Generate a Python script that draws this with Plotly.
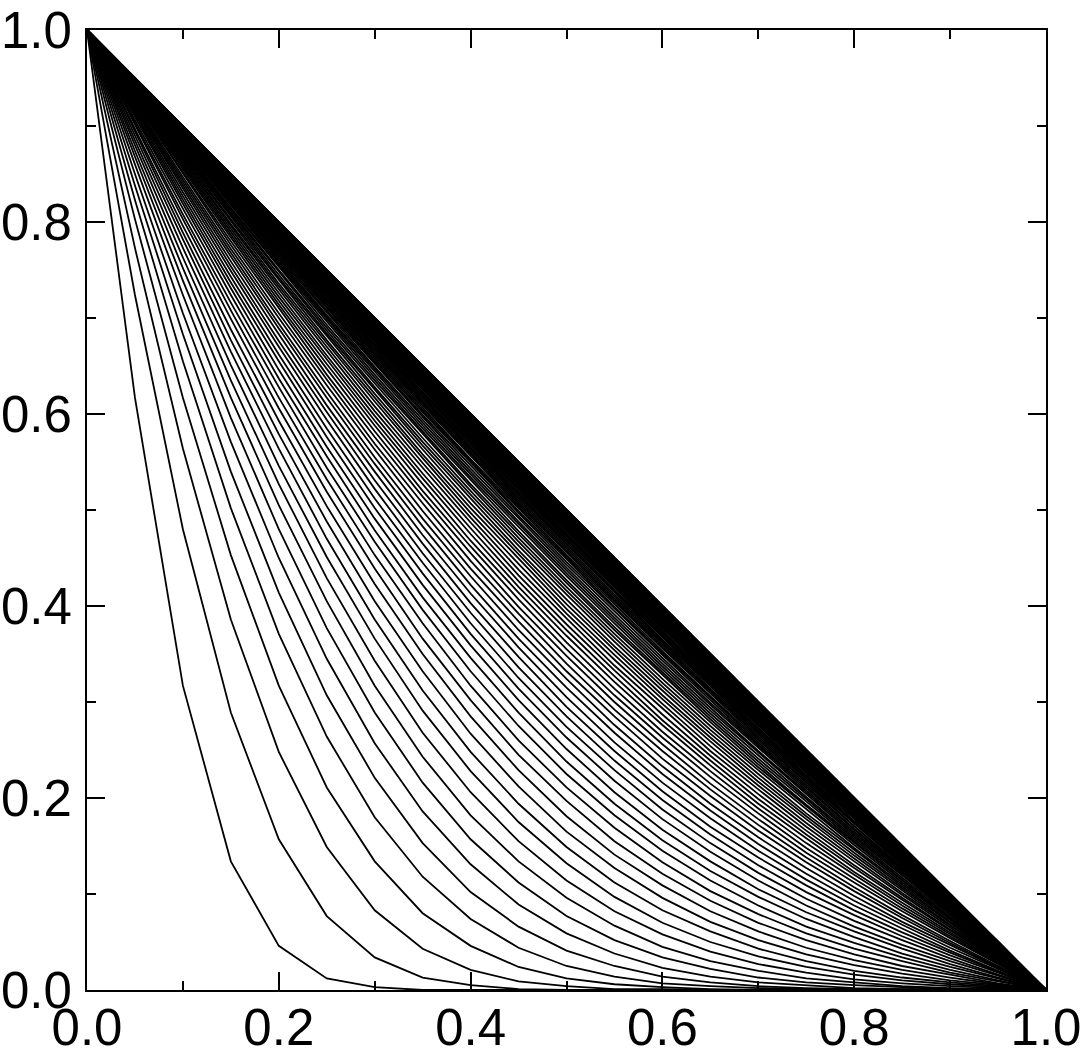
import plotly.graph_objects as go

# x grid (21 sample positions)
x_grid = [0.0, 0.05, 0.10, 0.15, 0.20, 0.25, 0.30, 0.35, 0.40, 0.45, 0.50,
          0.55, 0.60, 0.65, 0.70, 0.75, 0.80, 0.85, 0.90, 0.95, 1.0]

# every curve starts at y=1 (x=0) and ends at y=0 (x=1)
y_start = 1.0
y_end = 0.0

# interior values (x = 0.05 .. 0.95), in thousandths, one row per curve
early_curves = [
    [617, 317, 134, 46, 12, 3, 0, 0, 0, 0, 0, 0, 0, 0, 0, 0, 0, 0, 0],
    [724, 480, 289, 157, 77, 34, 13, 5, 1, 0, 0, 0, 0, 0, 0, 0, 0, 0, 0],
    [773, 564, 386, 248, 149, 83, 43, 21, 9, 4, 1, 1, 0, 0, 0, 0, 0, 0, 0],
    [803, 617, 453, 317, 211, 134, 80, 46, 24, 12, 6, 3, 1, 0, 0, 0, 0, 0, 0],
    [823, 655, 502, 371, 264, 180, 118, 74, 44, 25, 14, 7, 4, 2, 1, 0, 0, 0, 0],
    [838, 683, 540, 414, 307, 221, 153, 102, 66, 41, 25, 14, 8, 4, 2, 1, 1, 0, 0],
    [850, 705, 571, 450, 345, 257, 186, 131, 89, 59, 38, 23, 14, 8, 5, 2, 1, 1, 0],
    [860, 724, 596, 480, 377, 289, 216, 157, 112, 77, 52, 34, 22, 13, 8, 5, 3, 1, 1],
    [868, 739, 617, 505, 405, 317, 243, 182, 134, 96, 67, 45, 30, 20, 12, 8, 4, 2, 1],
    [874, 752, 635, 527, 429, 343, 268, 206, 155, 114, 82, 58, 40, 27, 18, 11, 7, 4, 2],
    [880, 763, 651, 546, 451, 366, 291, 228, 175, 132, 97, 70, 50, 35, 24, 16, 10, 6, 3],
    [885, 773, 665, 564, 470, 386, 312, 248, 194, 149, 112, 83, 61, 43, 30, 20, 13, 8, 4],
    [890, 782, 677, 579, 488, 405, 332, 267, 212, 165, 127, 96, 71, 52, 37, 26, 17, 10, 5],
    [894, 789, 688, 593, 504, 423, 350, 285, 229, 181, 141, 109, 82, 61, 44, 31, 21, 13, 6],
    [897, 796, 699, 606, 519, 439, 366, 302, 245, 197, 155, 121, 93, 70, 52, 37, 25, 16, 7],
    [901, 803, 708, 617, 532, 453, 382, 317, 260, 211, 169, 133, 103, 79, 59, 43, 30, 18, 9],
    [903, 808, 716, 628, 544, 467, 396, 332, 275, 225, 182, 145, 114, 88, 66, 49, 34, 21, 10],
    [906, 814, 724, 637, 556, 479, 409, 346, 289, 238, 194, 156, 124, 97, 74, 55, 38, 24, 12],
    [909, 819, 731, 646, 566, 491, 422, 359, 302, 251, 206, 167, 134, 105, 81, 61, 43, 27, 13],
    [911, 823, 737, 655, 576, 502, 434, 371, 314, 263, 218, 178, 144, 114, 88, 66, 47, 30, 15],
]

middle_curves = [
    [913, 827, 743, 662, 585, 512, 445, 382, 325, 274, 229, 188, 153, 122, 95, 72, 52, 33, 16],
    [915, 831, 749, 670, 594, 522, 455, 393, 336, 285, 239, 198, 162, 130, 102, 78, 56, 36, 18],
    [917, 835, 754, 676, 602, 531, 465, 403, 347, 295, 249, 207, 170, 138, 109, 83, 60, 39, 19],
    [919, 838, 759, 683, 609, 540, 474, 413, 357, 305, 258, 216, 179, 145, 115, 88, 64, 41, 20],
    [920, 841, 764, 689, 617, 548, 483, 422, 366, 315, 268, 225, 187, 152, 121, 93, 68, 44, 22],
    [922, 844, 768, 694, 623, 555, 491, 431, 375, 324, 276, 233, 194, 159, 127, 98, 71, 47, 23],
    [923, 847, 772, 700, 630, 563, 499, 439, 384, 332, 285, 241, 202, 166, 133, 103, 75, 49, 24],
    [925, 850, 776, 705, 636, 569, 507, 447, 392, 340, 292, 249, 209, 172, 138, 107, 78, 51, 25],
    [926, 852, 780, 710, 641, 576, 514, 455, 399, 348, 300, 256, 215, 178, 143, 112, 82, 54, 27],
    [927, 855, 784, 714, 647, 582, 520, 462, 407, 355, 307, 263, 222, 184, 148, 116, 85, 56, 28],
    [928, 857, 787, 718, 652, 588, 527, 468, 414, 362, 314, 269, 228, 189, 153, 120, 88, 58, 29],
    [929, 859, 790, 722, 657, 593, 533, 475, 420, 369, 321, 276, 234, 194, 158, 123, 91, 60, 30],
    [930, 861, 793, 726, 661, 598, 538, 481, 426, 375, 327, 281, 239, 199, 162, 127, 94, 62, 31],
    [931, 863, 796, 730, 666, 603, 544, 487, 432, 381, 333, 287, 244, 204, 166, 130, 96, 63, 32],
    [932, 865, 798, 733, 670, 608, 549, 492, 438, 387, 338, 293, 249, 209, 170, 134, 99, 65, 32],
    [933, 867, 801, 736, 674, 613, 554, 497, 444, 392, 344, 298, 254, 213, 174, 137, 101, 67, 33],
    [934, 868, 803, 740, 677, 617, 558, 502, 449, 397, 349, 303, 259, 217, 178, 140, 104, 68, 34],
    [935, 870, 806, 742, 681, 621, 563, 507, 454, 402, 354, 307, 263, 221, 181, 143, 106, 70, 35],
    [935, 871, 808, 745, 684, 625, 567, 512, 458, 407, 358, 312, 267, 225, 184, 146, 108, 71, 36],
    [936, 873, 810, 748, 687, 628, 571, 516, 463, 412, 363, 316, 271, 229, 188, 148, 110, 73, 36],
    [937, 874, 812, 750, 690, 632, 575, 520, 467, 416, 367, 320, 275, 232, 191, 151, 112, 74, 37],
    [937, 875, 814, 753, 693, 635, 579, 524, 471, 420, 371, 324, 279, 235, 193, 153, 114, 75, 37],
    [938, 876, 815, 755, 696, 638, 582, 527, 475, 424, 375, 328, 282, 238, 196, 155, 115, 76, 38],
    [939, 878, 817, 757, 699, 641, 585, 531, 478, 427, 378, 331, 285, 241, 199, 157, 117, 78, 39],
    [939, 879, 819, 759, 701, 644, 588, 534, 482, 431, 382, 334, 288, 244, 201, 159, 119, 79, 39],
]

dense_curves = [
    [940, 880, 820, 761, 703, 647, 591, 537, 485, 434, 385, 337, 291, 247, 204, 161, 120, 80, 40],
    [940, 881, 822, 763, 706, 649, 594, 540, 488, 437, 388, 340, 294, 249, 206, 163, 122, 81, 40],
    [941, 882, 823, 765, 708, 652, 597, 543, 491, 440, 391, 343, 297, 252, 208, 165, 123, 82, 41],
    [941, 882, 824, 767, 710, 654, 599, 546, 494, 443, 394, 346, 299, 254, 210, 167, 124, 82, 41],
    [942, 883, 825, 768, 712, 656, 602, 549, 497, 446, 397, 349, 302, 256, 212, 168, 126, 83, 42],
    [942, 884, 827, 770, 714, 658, 604, 551, 499, 449, 399, 351, 304, 258, 214, 170, 127, 84, 42],
    [942, 885, 828, 771, 715, 660, 606, 553, 502, 451, 402, 353, 306, 260, 216, 171, 128, 85, 42],
    [943, 886, 829, 773, 717, 662, 609, 556, 504, 453, 404, 356, 309, 262, 217, 173, 129, 86, 43],
    [943, 886, 830, 774, 719, 664, 611, 558, 506, 456, 406, 358, 311, 264, 219, 174, 130, 86, 43],
    [943, 887, 831, 775, 720, 666, 612, 560, 508, 458, 408, 360, 312, 266, 220, 175, 131, 87, 43],
    [944, 888, 832, 776, 722, 668, 614, 562, 510, 460, 410, 362, 314, 268, 222, 176, 132, 88, 44],
    [944, 888, 833, 778, 723, 669, 616, 564, 512, 462, 412, 364, 316, 269, 223, 178, 133, 88, 44],
    [944, 889, 833, 779, 724, 671, 618, 565, 514, 464, 414, 365, 318, 271, 224, 179, 133, 89, 44],
    [945, 889, 834, 780, 726, 672, 619, 567, 516, 465, 416, 367, 319, 272, 226, 180, 134, 89, 45],
    [945, 890, 835, 781, 727, 673, 621, 569, 517, 467, 417, 369, 321, 273, 227, 181, 135, 90, 45],
    [945, 890, 836, 782, 728, 675, 622, 570, 519, 469, 419, 370, 322, 275, 228, 182, 136, 90, 45],
    [945, 891, 836, 782, 729, 676, 623, 572, 521, 470, 421, 372, 323, 276, 229, 182, 136, 91, 45],
    [946, 891, 837, 783, 730, 677, 625, 573, 522, 472, 422, 373, 325, 277, 230, 183, 137, 91, 46],
    [946, 892, 838, 784, 731, 678, 626, 574, 523, 473, 423, 374, 326, 278, 231, 184, 138, 92, 46],
    [946, 892, 838, 785, 732, 679, 627, 576, 525, 474, 425, 376, 327, 279, 232, 185, 138, 92, 46],
    [946, 892, 839, 786, 733, 680, 628, 577, 526, 475, 426, 377, 328, 280, 233, 186, 139, 92, 46],
    [946, 893, 839, 786, 734, 681, 629, 578, 527, 477, 427, 378, 329, 281, 234, 186, 139, 93, 46],
    [947, 893, 840, 787, 734, 682, 630, 579, 528, 478, 428, 379, 330, 282, 234, 187, 140, 93, 47],
    [947, 893, 840, 788, 735, 683, 631, 580, 529, 479, 429, 380, 331, 283, 235, 188, 140, 93, 47],
    [947, 894, 841, 788, 736, 684, 632, 581, 530, 480, 430, 381, 332, 284, 236, 188, 141, 94, 47],
]

near_steady_curves = [
    [947, 894, 841, 789, 736, 685, 633, 582, 531, 481, 431, 382, 333, 285, 236, 189, 141, 94, 47],
    [947, 894, 842, 789, 737, 685, 634, 583, 532, 482, 432, 383, 334, 285, 237, 189, 142, 94, 47],
    [947, 895, 842, 790, 738, 686, 635, 583, 533, 483, 433, 383, 335, 286, 238, 190, 142, 95, 47],
    [947, 895, 843, 790, 738, 687, 635, 584, 534, 483, 434, 384, 335, 287, 238, 190, 143, 95, 47],
    [948, 895, 843, 791, 739, 687, 636, 585, 534, 484, 434, 385, 336, 287, 239, 191, 143, 95, 48],
    [948, 895, 843, 791, 739, 688, 637, 586, 535, 485, 435, 386, 337, 288, 239, 191, 143, 95, 48],
    [948, 896, 844, 792, 740, 688, 637, 586, 536, 486, 436, 386, 337, 288, 240, 192, 144, 96, 48],
    [948, 896, 844, 792, 740, 689, 638, 587, 537, 486, 437, 387, 338, 289, 240, 192, 144, 96, 48],
    [948, 896, 844, 792, 741, 690, 639, 588, 537, 487, 437, 388, 339, 290, 241, 192, 144, 96, 48],
    [948, 896, 844, 793, 741, 690, 639, 588, 538, 488, 438, 388, 339, 290, 241, 193, 144, 96, 48],
    [948, 896, 845, 793, 742, 691, 640, 589, 538, 488, 438, 389, 340, 291, 242, 193, 145, 96, 48],
    [948, 897, 845, 793, 742, 691, 640, 589, 539, 489, 439, 389, 340, 291, 242, 193, 145, 97, 48],
    [948, 897, 845, 794, 743, 691, 641, 590, 540, 489, 440, 390, 341, 291, 243, 194, 145, 97, 48],
    [948, 897, 845, 794, 743, 692, 641, 590, 540, 490, 440, 390, 341, 292, 243, 194, 145, 97, 48],
    [948, 897, 846, 794, 743, 692, 641, 591, 541, 490, 441, 391, 341, 292, 243, 194, 146, 97, 48],
    [949, 897, 846, 795, 744, 693, 642, 591, 541, 491, 441, 391, 342, 293, 244, 195, 146, 97, 49],
    [949, 897, 846, 795, 744, 693, 642, 592, 541, 491, 441, 392, 342, 293, 244, 195, 146, 97, 49],
    [949, 897, 846, 795, 744, 693, 643, 592, 542, 492, 442, 392, 343, 293, 244, 195, 146, 97, 49],
    [949, 898, 846, 795, 744, 694, 643, 593, 542, 492, 442, 393, 343, 294, 244, 195, 146, 98, 49],
    [949, 898, 847, 796, 745, 694, 643, 593, 543, 493, 443, 393, 343, 294, 245, 196, 147, 98, 49],
    [949, 898, 847, 796, 745, 694, 644, 593, 543, 493, 443, 393, 344, 294, 245, 196, 147, 98, 49],
    [949, 898, 847, 796, 745, 695, 644, 594, 543, 493, 443, 394, 344, 295, 245, 196, 147, 98, 49],
    [949, 898, 847, 796, 745, 695, 644, 594, 544, 494, 444, 394, 344, 295, 245, 196, 147, 98, 49],
    [949, 898, 847, 796, 746, 695, 645, 594, 544, 494, 444, 394, 345, 295, 246, 196, 147, 98, 49],
    [949, 898, 847, 797, 746, 695, 645, 594, 544, 494, 444, 394, 345, 295, 246, 197, 147, 98, 49],
    [949, 898, 847, 797, 746, 695, 645, 595, 544, 494, 444, 395, 345, 295, 246, 197, 147, 98, 49],
    [949, 898, 848, 797, 746, 696, 645, 595, 545, 495, 445, 395, 345, 296, 246, 197, 148, 98, 49],
    [949, 898, 848, 797, 746, 696, 645, 595, 545, 495, 445, 395, 345, 296, 246, 197, 148, 98, 49],
    [949, 898, 848, 797, 747, 696, 646, 595, 545, 495, 445, 395, 346, 296, 247, 197, 148, 99, 49],
    [949, 899, 848, 797, 747, 696, 646, 596, 545, 495, 445, 396, 346, 296, 247, 197, 148, 99, 49],
]

steady_curves = [
    [949, 899, 848, 797, 747, 696, 646, 596, 546, 496, 446, 396, 346, 296, 247, 197, 148, 99, 49],
    [949, 899, 848, 798, 747, 697, 646, 596, 546, 496, 446, 396, 346, 297, 247, 198, 148, 99, 49],
    [949, 899, 848, 798, 747, 697, 646, 596, 546, 496, 446, 396, 346, 297, 247, 198, 148, 99, 49],
    [949, 899, 848, 798, 747, 697, 647, 596, 546, 496, 446, 396, 347, 297, 247, 198, 148, 99, 49],
    [949, 899, 848, 798, 747, 697, 647, 597, 546, 496, 446, 397, 347, 297, 247, 198, 148, 99, 49],
    [949, 899, 848, 798, 748, 697, 647, 597, 547, 497, 447, 397, 347, 297, 248, 198, 148, 99, 49],
    [949, 899, 848, 798, 748, 697, 647, 597, 547, 497, 447, 397, 347, 297, 248, 198, 148, 99, 49],
    [950, 899, 849, 798, 748, 698, 647, 597, 547, 497, 447, 397, 347, 298, 248, 198, 149, 99, 50],
    [950, 899, 849, 798, 748, 698, 647, 597, 547, 497, 447, 397, 347, 298, 248, 198, 149, 99, 50],
    [950, 899, 849, 798, 748, 698, 648, 597, 547, 497, 447, 397, 348, 298, 248, 198, 149, 99, 50],
    [950, 899, 849, 798, 748, 698, 648, 597, 547, 497, 447, 397, 348, 298, 248, 198, 149, 99, 50],
    [950, 899, 849, 799, 748, 698, 648, 598, 547, 497, 447, 398, 348, 298, 248, 199, 149, 99, 50],
    [950, 899, 849, 799, 748, 698, 648, 598, 548, 498, 448, 398, 348, 298, 248, 199, 149, 99, 50],
    [950, 899, 849, 799, 748, 698, 648, 598, 548, 498, 448, 398, 348, 298, 248, 199, 149, 99, 50],
    [950, 899, 849, 799, 748, 698, 648, 598, 548, 498, 448, 398, 348, 298, 248, 199, 149, 99, 50],
    [950, 899, 849, 799, 749, 698, 648, 598, 548, 498, 448, 398, 348, 298, 249, 199, 149, 99, 50],
    [950, 899, 849, 799, 749, 698, 648, 598, 548, 498, 448, 398, 348, 298, 249, 199, 149, 99, 50],
    [950, 899, 849, 799, 749, 698, 648, 598, 548, 498, 448, 398, 348, 298, 249, 199, 149, 99, 50],
    [950, 899, 849, 799, 749, 699, 648, 598, 548, 498, 448, 398, 348, 299, 249, 199, 149, 99, 50],
    [950, 899, 849, 799, 749, 699, 648, 598, 548, 498, 448, 398, 348, 299, 249, 199, 149, 99, 50],
    [950, 899, 849, 799, 749, 699, 649, 598, 548, 498, 448, 398, 349, 299, 249, 199, 149, 99, 50],
    [950, 900, 849, 799, 749, 699, 649, 599, 548, 498, 448, 399, 349, 299, 249, 199, 149, 100, 50],
    [950, 900, 849, 799, 749, 699, 649, 599, 549, 499, 449, 399, 349, 299, 249, 199, 149, 100, 50],
    [950, 900, 849, 799, 749, 699, 649, 599, 549, 499, 449, 399, 349, 299, 249, 199, 149, 100, 50],
    [950, 900, 849, 799, 749, 699, 649, 599, 549, 499, 449, 399, 349, 299, 249, 199, 149, 100, 50],
    [950, 900, 849, 799, 749, 699, 649, 599, 549, 499, 449, 399, 349, 299, 249, 199, 149, 100, 50],
    [950, 900, 849, 799, 749, 699, 649, 599, 549, 499, 449, 399, 349, 299, 249, 199, 149, 100, 50],
    [950, 900, 849, 799, 749, 699, 649, 599, 549, 499, 449, 399, 349, 299, 249, 199, 149, 100, 50],
    [950, 900, 850, 799, 749, 699, 649, 599, 549, 499, 449, 399, 349, 299, 249, 199, 150, 100, 50],
    [950, 900, 850, 799, 749, 699, 649, 599, 549, 499, 449, 399, 349, 299, 249, 199, 150, 100, 50],
]

tick_values = [0.0, 0.2, 0.4, 0.6, 0.8, 1.0]
tick_labels = ["0.0", "0.2", "0.4", "0.6", "0.8", "1.0"]

all_rows = early_curves + middle_curves + dense_curves + near_steady_curves + steady_curves

fig = go.Figure()
for row in all_rows:
    y = [y_start] + [v / 1000.0 for v in row] + [y_end]
    fig.add_trace(go.Scatter(x=x_grid, y=y, mode="lines",
                             line=dict(color="black", width=1.8),
                             showlegend=False, hoverinfo="skip"))

def axis_style(standoff):
    return dict(
        range=[0, 1], showline=True, linecolor="black", linewidth=2, mirror="allticks",
        ticks="inside", ticklen=18, tickwidth=1.5, tickcolor="black",
        tickmode="array", tickvals=tick_values, ticktext=tick_labels,
        showgrid=False, zeroline=False, ticklabelstandoff=standoff,
        tickfont=dict(family="Liberation Sans, Arial, sans-serif", size=51, color="black"),
        minor=dict(ticks="inside", ticklen=9, dtick=0.1, tick0=0, tickcolor="black",
                   tickwidth=1.5, showgrid=False),
        fixedrange=True,
    )

fig.update_layout(
    width=1083, height=1063,
    margin=dict(l=87, r=37, t=30, b=73, autoexpand=False),
    plot_bgcolor="white", paper_bgcolor="white",
    xaxis=axis_style(-8), yaxis=axis_style(3),
)
fig.write_html("out.html", config={"displayModeBar": False})

# remove the browser's default page margin so the figure sits at the top-left corner
with open("out.html", "r", encoding="utf-8") as f:
    page = f.read()
page = page.replace("<head>", "<head><style>html,body{margin:0;padding:0;overflow:hidden;}</style>", 1)
with open("out.html", "w", encoding="utf-8") as f:
    f.write(page)
